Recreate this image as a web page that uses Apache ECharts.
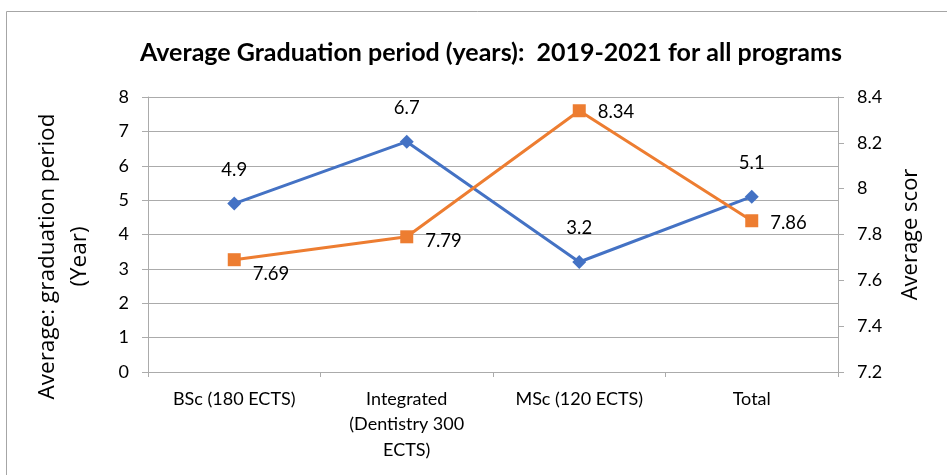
<!DOCTYPE html>
<html>
<head>
<meta charset="utf-8">
<script src="https://cdn.jsdelivr.net/npm/echarts@6/dist/echarts.min.js"></script>
<style>html,body{margin:0;padding:0;background:#fff;}#c{width:947px;height:475px;}</style>
</head>
<body>
<div id="c"></div>
<script>
var categories = ["BSc (180 ECTS)", "Integrated\n(Dentistry 300\nECTS)", "MSc (120 ECTS)", "Total"];
var graduationPeriod = [4.9, 6.7, 3.2, 5.1];
var averageScore = [7.69, 7.79, 8.34, 7.86];
var titleText = "Average Graduation period (years):  2019-2021 for all programs";
var leftAxisName = "Average: graduation period\n(Year)";
var rightAxisName = "Average scor";

var scoreLabelOffsets = [[0, 14], [0, 4], [0, 1], [0, 2]];

var chart = echarts.init(document.getElementById('c'), null, {renderer: 'canvas'});
var grid = '#ababab';
var txt = '#000';
var option = {
  animation: false,
  backgroundColor: '#fff',
  graphic: [{
    type: 'rect', shape: {x: 6.5, y: 11.5, width: 960, height: 480},
    style: {fill: 'none', stroke: '#a6a6a6', lineWidth: 1}, silent: true
  }],
  title: {
    text: titleText, left: 135, top: 35,
    textStyle: {fontFamily: 'Lato', fontWeight: 'bold', fontSize: 25, color: txt}
  },
  grid: {left: 148, right: 109, top: 97, bottom: 103},
  xAxis: {
    type: 'category', data: categories, boundaryGap: true,
    axisLine: {lineStyle: {color: grid, width: 1}},
    axisTick: {show: true, length: 5, lineStyle: {color: grid}},
    axisLabel: {fontFamily: 'Lato', fontSize: 18, color: txt, margin: 14, lineHeight: 25.5, interval: 0}
  },
  yAxis: [{
    type: 'value', min: 0, max: 8, interval: 1, position: 'left',
    name: leftAxisName, nameLocation: 'middle', nameGap: 52, nameRotate: 90,
    nameTextStyle: {fontFamily: 'Open Sans', fontSize: 22.5, color: txt, lineHeight: 32, padding: [0, 0, 0, -44]},
    axisLine: {show: true, lineStyle: {color: grid}},
    axisTick: {show: true, length: 6, lineStyle: {color: grid}},
    splitLine: {show: true, lineStyle: {color: grid, width: 1}},
    axisLabel: {fontFamily: 'Lato', fontSize: 18, color: txt, margin: 19}
  }, {
    type: 'value', min: 7.2, max: 8.4, interval: 0.2, position: 'right',
    name: rightAxisName, nameLocation: 'middle', nameGap: 62, nameRotate: 90,
    nameTextStyle: {fontFamily: 'Open Sans', fontSize: 22, color: txt},
    axisLine: {show: true, lineStyle: {color: grid}},
    axisTick: {show: true, length: 6, lineStyle: {color: grid}},
    splitLine: {show: false},
    axisLabel: {fontFamily: 'Lato', fontSize: 18, color: txt, margin: 19,
      formatter: function (v) { return String(Math.round(v * 10) / 10); }}
  }],
  series: [{
    name: 'Average graduation period', type: 'line', yAxisIndex: 0,
    data: graduationPeriod,
    symbol: 'diamond', symbolSize: 14,
    lineStyle: {color: '#4472C4', width: 3},
    itemStyle: {color: '#4472C4'},
    label: {show: true, position: 'top', distance: 17, fontFamily: 'Lato', fontSize: 18.5, color: txt}
  }, {
    name: 'Average score', type: 'line', yAxisIndex: 1,
    data: averageScore.map(function (v, i) {
      return {value: v, label: {offset: scoreLabelOffsets[i]}};
    }),
    symbol: 'rect', symbolSize: 13,
    lineStyle: {color: '#ED7D31', width: 3},
    itemStyle: {color: '#ED7D31'},
    label: {show: true, position: 'right', distance: 12, fontFamily: 'Lato', fontSize: 18.5, color: txt}
  }]
};
chart.setOption(option);
</script>
</body>
</html>
